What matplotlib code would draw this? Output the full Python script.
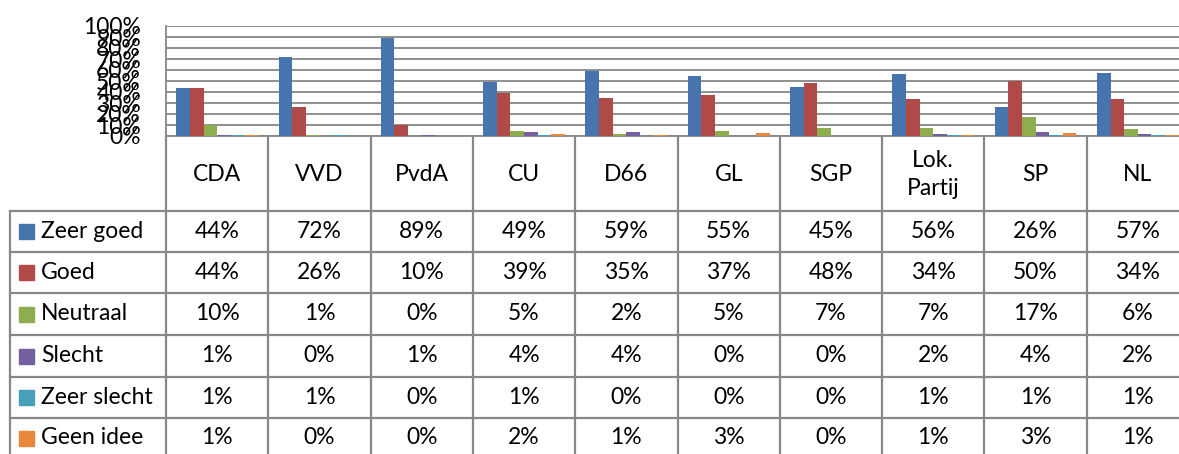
import matplotlib
matplotlib.use("Agg")
import matplotlib.pyplot as plt
import numpy as np

plt.rcParams['font.family'] = ['Lato', 'DejaVu Sans']

parties = ["CDA", "VVD", "PvdA", "CU", "D66", "GL", "SGP", "Lok.\nPartij", "SP", "NL"]
series_names = ["Zeer goed", "Goed", "Neutraal", "Slecht", "Zeer slecht", "Geen idee"]
zeer_goed   = [44, 72, 89, 49, 59, 55, 45, 56, 26, 57]
goed        = [44, 26, 10, 39, 35, 37, 48, 34, 50, 34]
neutraal    = [10, 1, 0, 5, 2, 5, 7, 7, 17, 6]
slecht      = [1, 0, 1, 4, 4, 0, 0, 2, 4, 2]
zeer_slecht = [1, 1, 0, 1, 0, 0, 0, 1, 1, 1]
geen_idee   = [1, 0, 0, 2, 1, 3, 0, 1, 3, 1]
series = [zeer_goed, goed, neutraal, slecht, zeer_slecht, geen_idee]
colors = ["#4874AE", "#B04A48", "#8DAD4E", "#74609E", "#46A0B8", "#E8883C"]
yticks = [0, 10, 20, 30, 40, 50, 60, 70, 80, 90, 100]

W, H = 1179, 454
fig = plt.figure(figsize=(W / 100, H / 100), dpi=100)

# layout in pixels
left_px, right_px = 166, 1189
top_px, bot_px = 26, 136
col_w = (right_px - left_px) / 10.0
grid_c = "#878787"
fs = 16.5

# table axes spanning the whole figure, x in category units, y in pixels
tax = fig.add_axes([0, 0, 1, 1])
tax.set_xlim(-0.5 - left_px / col_w, -0.5 + (W - left_px) / col_w)
tax.set_ylim(H, 0)
tax.axis("off")

ax = fig.add_axes([left_px / W, 1 - bot_px / H, (right_px - left_px) / W, (bot_px - top_px) / H])
ax.patch.set_alpha(0)
n = len(series)
bw = 0.8 / n
x = np.arange(len(parties))
for i, (vals, c) in enumerate(zip(series, colors)):
    ax.bar(x - 0.4 + bw * (i + 0.5), vals, width=bw, color=c, edgecolor="none", zorder=3)
ax.set_xlim(-0.5, 9.5)
ax.set_ylim(0, 100)
ax.set_yticks(yticks)
ax.set_yticklabels([f"{v}%" for v in yticks], fontsize=fs)
ax.tick_params(axis="y", length=0, pad=18)
ax.set_xticks([])
ax.grid(axis="y", color=grid_c, linewidth=1.3, zorder=0)
for s in ["top", "right"]:
    ax.spines[s].set_visible(False)
for s in ["left", "bottom"]:
    ax.spines[s].set_color(grid_c)
    ax.spines[s].set_linewidth(1.3)

# table lines
row_edges = [211, 252, 293, 335, 377, 418, 460]
lw = 1.6
leg_left = -0.5 - (left_px - 10) / col_w
for k in range(11):
    tax.plot([k - 0.5, k - 0.5], [bot_px, H + 5], color=grid_c, lw=lw, solid_capstyle="butt")
tax.plot([leg_left, leg_left], [row_edges[0], H + 5], color=grid_c, lw=lw)
for y in row_edges[:-1]:
    tax.plot([leg_left, 10], [y, y], color=grid_c, lw=lw)

# header
for k, p in enumerate(parties):
    tax.text(k, (bot_px + row_edges[0]) / 2 + 1, p, ha="center", va="center",
             fontsize=fs, linespacing=1.4)

# rows
sw = 15 / col_w
for r, (name, vals, c) in enumerate(zip(series_names, series, colors)):
    yc = (row_edges[r] + row_edges[r + 1]) / 2
    if r == len(series_names) - 1:
        yc = 438
    tax.add_patch(plt.Rectangle((leg_left + 9 / col_w, yc - 7.5), sw, 15, color=c))
    tax.text(leg_left + 31 / col_w, yc, name, ha="left", va="center", fontsize=fs)
    for k, v in enumerate(vals):
        tax.text(k, yc, f"{v}%", ha="center", va="center", fontsize=fs)

fig.savefig("out.png", dpi=100)
